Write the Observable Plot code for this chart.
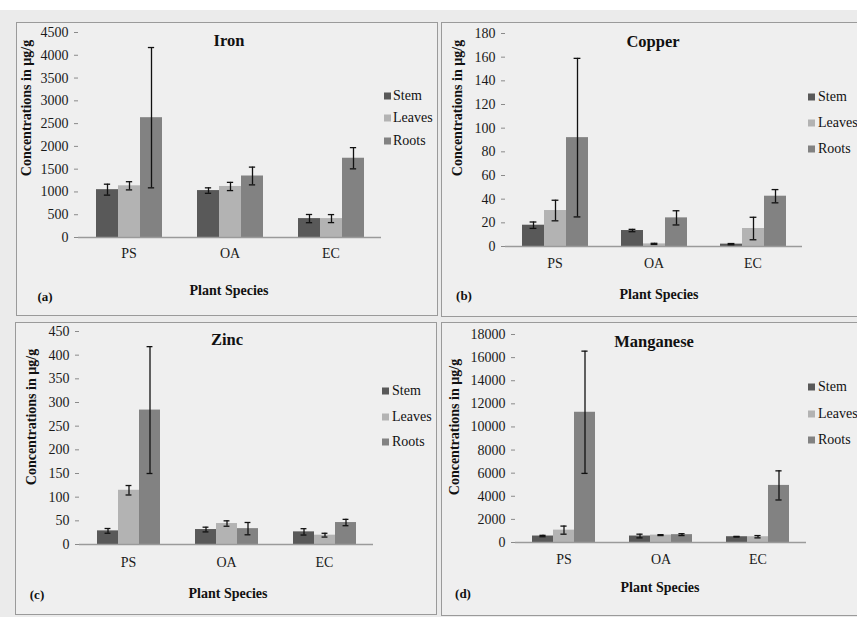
<!DOCTYPE html>
<html>
<head>
<meta charset="utf-8">
<script src="https://cdn.jsdelivr.net/npm/d3@7"></script>
<script src="https://cdn.jsdelivr.net/npm/@observablehq/plot@0.6"></script>
<style>
  html, body { margin: 0; padding: 0; }
  body { width: 857px; height: 617px; overflow: hidden; background: #ebebeb; font-family: "Liberation Serif", "DejaVu Serif", serif; }
  #root { position: relative; width: 857px; height: 617px; }
  #topstrip { position: absolute; left: 0; top: 0; width: 857px; height: 10px; background: #fff; }
  .panel { position: absolute; background: #efefef; outline: 1px solid #9a9a9a; outline-offset: -1px; }
  .panel svg { position: absolute; left: 0; top: 0; }
  .lbl { position: absolute; transform: translate(-50%, -50%); white-space: nowrap; color: #111; line-height: 1; }
  .title { font-weight: bold; font-size: 16.5px; }
  .xlab { font-weight: bold; font-size: 14px; }
  .ylab { font-weight: bold; font-size: 14px; transform: translate(-50%, -50%) rotate(-90deg); }
  .letter { font-weight: bold; font-size: 13px; }
  .leg { position: absolute; font-size: 14px; color: #111; white-space: nowrap; line-height: 1; transform: translateY(-50%); }
  .sw { position: absolute; width: 7px; height: 7px; transform: translateY(-50%); }
</style>
</head>
<body>
<div id="root"><div id="topstrip"></div></div>
<script>
// ---------------- data ----------------
const species = ["PS", "OA", "EC"];
const parts = ["Stem", "Leaves", "Roots"];
const partColors = ["#595959", "#b3b3b3", "#828282"];

// rows: species PS, OA, EC ; columns: Stem, Leaves, Roots
const ironMean = [[1050, 1135, 2630], [1030, 1120, 1350], [415, 415, 1740]];
const ironErr  = [[120, 90, 1540], [60, 90, 195], [90, 88, 233]];
const ironTicks = [0, 500, 1000, 1500, 2000, 2500, 3000, 3500, 4000, 4500];

const copperMean = [[18, 30.4, 92], [13.5, 2.2, 24.2], [2, 15.2, 42.5]];
const copperErr  = [[2.7, 8.7, 67], [1, 0.5, 6], [0.5, 9.5, 5.6]];
const copperTicks = [0, 20, 40, 60, 80, 100, 120, 140, 160, 180];

const zincMean = [[28.8, 114.6, 284], [31.6, 44.3, 33.5], [26.7, 19.7, 46.4]];
const zincErr  = [[5, 10, 134], [5, 5.7, 13], [6.7, 4, 6.7]];
const zincTicks = [0, 50, 100, 150, 200, 250, 300, 350, 400, 450];

const mnMean = [[560, 1070, 11270], [560, 640, 680], [500, 500, 4940]];
const mnErr  = [[60, 350, 5290], [160, 40, 80], [30, 100, 1260]];
const mnTicks = [0, 2000, 4000, 6000, 8000, 10000, 12000, 14000, 16000, 18000];

function rows(mean, err) {
  const out = [];
  species.forEach((s, i) => parts.forEach((p, j) => out.push({species: s, part: p, value: mean[i][j], err: err[i][j]})));
  return out;
}

// ---------------- layout (page px) ----------------
const panels = [
  {name: "Iron", letter: "(a)", mean: ironMean, err: ironErr, ticks: ironTicks,
   box: {left: 16, top: 22, w: 422, h: 294}, frame: {L: 77, R: 381, T: 32, B: 237}, catDy: 20,
   title: [229, 41], ylab: [27, 108], xlab: [229, 291], let: [45, 296],
   leg: {sx: 384, tx: 393, ys: [96, 118, 141]}},
  {name: "Copper", letter: "(b)", mean: copperMean, err: copperErr, ticks: copperTicks,
   box: {left: 441, top: 22, w: 420, h: 295}, frame: {L: 505, R: 802, T: 33, B: 246}, catDy: 21,
   title: [653, 42], ylab: [458, 108], xlab: [659, 295], let: [464, 295],
   leg: {sx: 808, tx: 818, ys: [97, 123, 149]}},
  {name: "Zinc", letter: "(c)", mean: zincMean, err: zincErr, ticks: zincTicks,
   box: {left: 15, top: 322, w: 422, h: 293}, frame: {L: 78, R: 374, T: 331, B: 544}, catDy: 22,
   title: [227, 340], ylab: [32, 417], xlab: [228, 594], let: [37, 594],
   leg: {sx: 382, tx: 392, ys: [391, 417, 442]}},
  {name: "Manganese", letter: "(d)", mean: mnMean, err: mnErr, ticks: mnTicks,
   box: {left: 441, top: 322, w: 420, h: 294}, frame: {L: 514, R: 806, T: 334, B: 542}, catDy: 21,
   title: [654, 342], ylab: [455, 427], xlab: [660, 588], let: [463, 593],
   leg: {sx: 808, tx: 818, ys: [387, 414, 440]}}
];

const root = document.getElementById("root");

function addLabel(cls, text, x, y) {
  const d = document.createElement("div");
  d.className = "lbl " + cls;
  d.textContent = text;
  d.style.left = x + "px";
  d.style.top = y + "px";
  root.appendChild(d);
}

for (const p of panels) {
  const {box, frame} = p;
  const data = rows(p.mean, p.err);
  const mL = frame.L - box.left, mR = box.left + box.w - frame.R;
  const mT = frame.T - box.top, mB = box.top + box.h - frame.B;
  const fw = (frame.R - frame.L) / species.length;
  const po = 0.73;
  const bw = fw / (parts.length + 2 * po);
  const capInset = (bw - 7) / 2;
  const yMax = p.ticks[p.ticks.length - 1];

  const chart = Plot.plot({
    width: box.w, height: box.h,
    marginLeft: mL, marginRight: mR, marginTop: mT, marginBottom: mB,
    style: "background: transparent; font-family: 'Liberation Serif', serif; font-size: 14px; color: #1a1a1a; overflow: visible;",
    fx: {domain: species, padding: 0, axis: null},
    x: {domain: parts, paddingInner: 0, paddingOuter: po, axis: null},
    y: {domain: [0, yMax], axis: null},
    color: {domain: parts, range: partColors},
    marks: [
      Plot.axisY({ticks: p.ticks, tickFormat: d => String(d), tickSize: 4, tickPadding: 6,
                  stroke: "#8a8a8a", fill: "#1a1a1a", label: null, fontSize: 14}),
      Plot.barY(data, {fx: "species", x: "part", y: "value", fill: "part"}),
      Plot.ruleY([0], {stroke: "#9a9a9a", strokeWidth: 1.3}),
      // y-axis line (left edge of first facet), extended as the first boundary tick
      Plot.ruleX([{species: species[0]}], {fx: "species", y1: 0, y2: yMax, insetBottom: -4, dx: -fw / 2, stroke: "#8a8a8a"}),
      // category boundary ticks
      Plot.ruleX(species.slice(1).map(s => ({species: s})), {fx: "species", y1: 0, y2: 0, insetBottom: -4, dx: -fw / 2, stroke: "#8a8a8a"}),
      Plot.ruleX([{species: species[species.length - 1]}], {fx: "species", y1: 0, y2: 0, insetBottom: -4, dx: fw / 2, stroke: "#8a8a8a"}),
      // error bars
      Plot.ruleX(data, {fx: "species", x: "part", y1: d => d.value - d.err, y2: d => d.value + d.err, stroke: "#111", strokeWidth: 1.3}),
      Plot.tickY(data, {fx: "species", x: "part", y: d => d.value - d.err, insetLeft: capInset, insetRight: capInset, stroke: "#111", strokeWidth: 1.3}),
      Plot.tickY(data, {fx: "species", x: "part", y: d => d.value + d.err, insetLeft: capInset, insetRight: capInset, stroke: "#111", strokeWidth: 1.3}),
      // category labels
      Plot.text(species, {fx: d => d, text: d => d, frameAnchor: "bottom", dy: p.catDy, fontSize: 14, fill: "#1a1a1a"})
    ]
  });

  const div = document.createElement("div");
  div.className = "panel";
  div.style.left = box.left + "px";
  div.style.top = box.top + "px";
  div.style.width = box.w + "px";
  div.style.height = box.h + "px";
  div.appendChild(chart);
  root.appendChild(div);

  addLabel("title", p.name, p.title[0], p.title[1]);
  addLabel("ylab", "Concentrations  in \u00b5g/g", p.ylab[0], p.ylab[1]);
  addLabel("xlab", "Plant Species", p.xlab[0], p.xlab[1]);
  addLabel("letter", p.letter, p.let[0], p.let[1]);

  parts.forEach((name, j) => {
    const sw = document.createElement("div");
    sw.className = "sw";
    sw.style.left = p.leg.sx + "px";
    sw.style.top = p.leg.ys[j] + "px";
    sw.style.background = partColors[j];
    root.appendChild(sw);
    const t = document.createElement("div");
    t.className = "leg";
    t.textContent = name;
    t.style.left = p.leg.tx + "px";
    t.style.top = p.leg.ys[j] + "px";
    root.appendChild(t);
  });
}
</script>
</body>
</html>
